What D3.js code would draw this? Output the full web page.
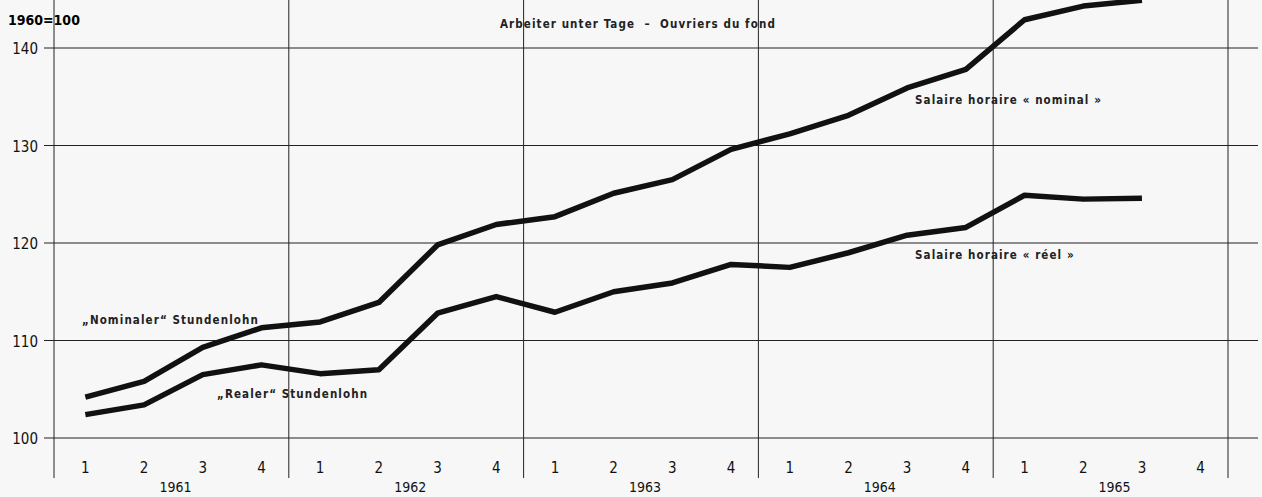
<!DOCTYPE html>
<html>
  <head>
    <meta charset="utf-8">
    <title>Arbeiter unter Tage - Stundenlohn</title>
    <script src="https://d3js.org/d3.v7.min.js"></script>
    <style>
      body { margin: 0; background: #f7f7f7; }
      svg { display: block; }
      .grid line { stroke: #222; stroke-width: 1; }
      .yTick { font-family: "DejaVu Sans Condensed", sans-serif; font-size: 15px; fill: #111; }
      .qTick { font-family: "DejaVu Sans Condensed", sans-serif; font-size: 15px; fill: #111; }
      .yearLabel { font-family: "DejaVu Sans Condensed", sans-serif; font-size: 14px; fill: #111; }
      .note { font-family: "DejaVu Sans Condensed", sans-serif; font-size: 11.5px; font-weight: bold; letter-spacing: 1.1px; fill: #222; }
      .series { fill: none; stroke: #111; stroke-width: 5.5; stroke-linejoin: round; }
    </style>
  </head>
  <body>
    <svg id="chart" width="1262" height="497"></svg>
    <script>
      // data
      var years = ["1961", "1962", "1963", "1964", "1965"];
      var quarterLabels = ["1", "2", "3", "4"];
      var yTicks = [100, 110, 120, 130, 140];
      var nominal = [104.2, 105.8, 109.3, 111.3, 111.9, 113.9, 119.8, 121.9,
                     122.7, 125.1, 126.5, 129.6, 131.2, 133.1, 135.9, 137.8,
                     142.9, 144.3, 144.9];
      var real = [102.4, 103.4, 106.5, 107.5, 106.6, 107.0, 112.8, 114.5,
                  112.9, 115.0, 115.9, 117.8, 117.5, 119.0, 120.8, 121.6,
                  124.9, 124.5, 124.6];

      var quarters = [];
      years.forEach(function(y) {
        quarterLabels.forEach(function(q) { quarters.push({ year: y, q: q, key: y + "-" + q }); });
      });

      var margin = { top: 0, right: 34, bottom: 59, left: 54 };
      var chart = d3.select("#chart");

      var x = d3.scaleBand()
        .domain(quarters.map(function(d) { return d.key; }))
        .range([margin.left, 1228]);
      var xYear = d3.scaleBand()
        .domain(years)
        .range([margin.left, 1228]);
      var y = d3.scaleLinear()
        .domain([100, 140])
        .range([438, 48]);

      // horizontal grid
      var grid = chart.append("g").classed("grid", true);
      grid.selectAll(".h")
        .data(yTicks)
        .enter().append("line")
          .attr("x1", 44)
          .attr("x2", 1258)
          .attr("y1", function(d) { return y(d); })
          .attr("y2", function(d) { return y(d); });
      // left axis and year dividers
      var dividers = [margin.left].concat(years.map(function(d) { return xYear(d) + xYear.bandwidth(); }));
      grid.selectAll(".v")
        .data(dividers)
        .enter().append("line")
          .attr("x1", function(d) { return d; })
          .attr("x2", function(d) { return d; })
          .attr("y1", 0)
          .attr("y2", 478);

      chart.append("g").selectAll("text")
        .data(yTicks)
        .enter().append("text")
          .classed("yTick", true)
          .attr("x", 38)
          .attr("y", function(d) { return y(d) + 6; })
          .attr("text-anchor", "end")
          .text(function(d) { return d; });

      chart.append("g").selectAll("text")
        .data(quarters)
        .enter().append("text")
          .classed("qTick", true)
          .attr("x", function(d) { return x(d.key) + x.bandwidth() / 2 + 2; })
          .attr("y", 473)
          .attr("text-anchor", "middle")
          .text(function(d) { return d.q; });

      chart.append("g").selectAll("text")
        .data(years)
        .enter().append("text")
          .classed("yearLabel", true)
          .attr("x", function(d) { return xYear(d) + xYear.bandwidth() / 2 + 4; })
          .attr("y", 492)
          .attr("text-anchor", "middle")
          .text(function(d) { return d; });

      // lines
      var line = d3.line()
        .x(function(d, i) { return x(quarters[i].key) + x.bandwidth() / 2 + 2; })
        .y(function(d) { return y(d); });
      chart.append("path").classed("series", true).attr("d", line(nominal));
      chart.append("path").classed("series", true).attr("d", line(real));

      // labels
      chart.append("text")
        .attr("x", 8).attr("y", 25)
        .style("font-family", "'DejaVu Sans Condensed', sans-serif")
        .style("font-weight", "bold").style("font-size", "14px")
        .text("1960=100");
      var notes = [
        { t: "Arbeiter unter Tage  –  Ouvriers du fond", x: 500, y: 28 },
        { t: "„Nominaler“ Stundenlohn", x: 82, y: 324 },
        { t: "„Realer“ Stundenlohn", x: 217, y: 398 },
        { t: "Salaire horaire « nominal »", x: 915, y: 104 },
        { t: "Salaire horaire « réel »", x: 915, y: 259 }
      ];
      chart.append("g").selectAll("text")
        .data(notes)
        .enter().append("text")
          .classed("note", true)
          .attr("x", function(d) { return d.x; })
          .attr("y", function(d) { return d.y; })
          .style("white-space", "pre")
          .text(function(d) { return d.t; });
    </script>
  </body>
</html>
